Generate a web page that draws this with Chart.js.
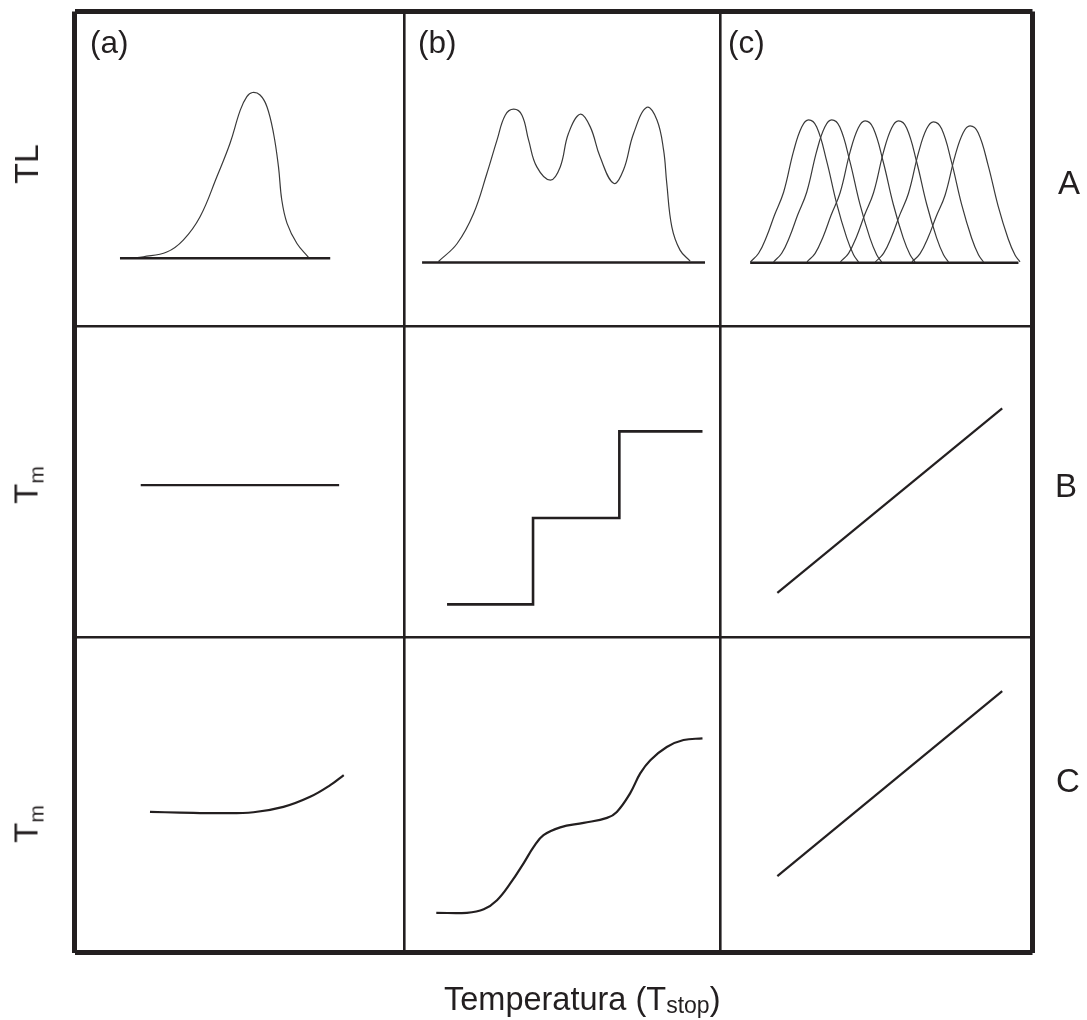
<!DOCTYPE html>
<html>
<head>
<meta charset="utf-8">
<script src="https://cdn.jsdelivr.net/npm/chart.js@4.4.1/dist/chart.umd.min.js"></script>
<style>
  html, body { margin: 0; padding: 0; background: #fff; }
  #wrap { position: relative; width: 1087px; height: 1020px; overflow: hidden; }
  canvas { position: absolute; left: 0; top: 0; }
  .lbl { position: absolute; font-family: "Liberation Sans", Arial, sans-serif; color: #231f20; line-height: 1; white-space: nowrap; }
  .rot { transform: translate(-50%, -50%) rotate(-90deg); }
  .sub { position: relative; }
</style>
</head>
<body>
<div id="wrap">
  <canvas id="c" width="1087" height="1020"></canvas>
  <div class="lbl" style="left:90px; top:27px; font-size:31.5px;">(a)</div>
  <div class="lbl" style="left:418px; top:27px; font-size:31.5px;">(b)</div>
  <div class="lbl" style="left:728px; top:27px; font-size:31.5px;">(c)</div>
  <div class="lbl" style="left:1058px; top:166px; font-size:33px;">A</div>
  <div class="lbl" style="left:1055px; top:469px; font-size:33px;">B</div>
  <div class="lbl" style="left:1056px; top:764px; font-size:33px;">C</div>
  <div class="lbl rot" style="left:26px; top:164px; font-size:34px;">TL</div>
  <div class="lbl rot" style="left:26px; top:485px; font-size:33px;">T<span class="sub" style="font-size:21px; top:6px;">m</span></div>
  <div class="lbl rot" style="left:26px; top:824px; font-size:33px;">T<span class="sub" style="font-size:21px; top:6px;">m</span></div>
  <div class="lbl" style="left:444px; top:983px; font-size:32.5px;">Temperatura (T<span class="sub" style="font-size:23px; top:3px;">stop</span>)</div>
</div>
<script>
// ---- panel grid (percent of the plotting area) ----
const colEdges = [0, 34.4, 67.4, 100];      // columns (a), (b), (c)
const rowEdges = [0, 33.5, 66.5, 100];      // rows C, B, A (bottom to top)

// ---- row A : TL glow curves (panel-local coordinates, 0-100) ----
const aA_baseX = [13.8, 77.6];
const aA_baseY = [21.7, 21.7];
const aA_x = [16.9, 20.9, 28.0, 33.0, 38.1, 43.2, 47.2, 50.3, 52.3, 54.0, 56.3, 58.4, 60.4, 61.9, 62.9, 64.5, 67.5, 71.0];
const aA_y = [21.7, 22.2, 23.7, 27.5, 34.9, 47.6, 58.2, 68.7, 73.0, 74.3, 73.5, 69.8, 61.3, 50.7, 40.2, 32.8, 26.4, 22.0];

const bA_baseX = [5.7, 95.2];
const bA_baseY = [20.4, 20.4];
const bA_x = [10.9, 16.8, 22.0, 26.2, 29.4, 32.0, 34.7, 37.3, 39.4, 42.0, 46.3, 49.4, 52.0, 55.7, 58.9, 62.0, 66.3, 69.4, 72.6, 76.8, 80.0, 82.1, 83.1, 84.7, 87.3, 90.5];
const bA_y = [20.7, 26.4, 35.9, 48.6, 59.2, 67.1, 69.0, 67.1, 59.2, 50.7, 46.5, 50.7, 61.3, 67.4, 63.4, 53.9, 45.5, 49.7, 61.3, 69.6, 65.6, 56.0, 45.5, 31.7, 24.3, 20.8];

const cA_baseX = [9.6, 95.5];
const cA_baseY = [20.3, 20.3];
const cA_curveBase = 20.6;
const peakShapeDx   = [-18.6, -16.0, -13.4, -10.9, -8.0, -4.8, -2.2, 0, 2.6, 5.8, 9.0, 12.2, 14.4, 16.0];
const peakShapeFrac = [0, 0.06, 0.18, 0.33, 0.49, 0.78, 0.95, 1, 0.95, 0.71, 0.41, 0.17, 0.05, 0];
const peakCenters = [28.3, 35.7, 46.4, 57.1, 68.3, 80.0];
const peakTops    = [65.6, 65.6, 65.3, 65.3, 65.0, 63.7];

// ---- row B : Tm vs Tstop ----
const aB_x = [20.1, 80.3];
const aB_y = [49.0, 49.0];
const bB_x = [13.6, 40.8, 68.1, 94.4];
const bB_y = [10.6, 38.4, 66.3, 66.3];
const cB_x = [18.3, 90.3];
const cB_y = [14.3, 73.7];

// ---- row C : Tm vs Tstop ----
const aC_x = [22.9, 32.0, 44.2, 54.3, 63.4, 71.5, 77.6, 81.7];
const aC_y = [44.6, 44.4, 44.2, 44.5, 46.2, 49.4, 53.1, 56.3];
const bC_x = [10.2, 19.9, 25.2, 29.4, 33.6, 37.8, 41.0, 44.1, 49.4, 56.8, 64.2, 67.3, 71.5, 74.7, 77.9, 83.1, 88.4, 94.4];
const bC_y = [12.6, 12.6, 13.7, 16.6, 21.9, 28.3, 33.5, 37.2, 39.7, 41.1, 42.7, 44.6, 50.5, 56.8, 61.0, 65.2, 67.4, 67.9];
const cC_x = [18.3, 90.3];
const cC_y = [24.2, 82.9];

// ---- helpers ----
const INK = '#231f20';
const THIN = '#3a3a3a';
function place(col, row, xs, ys) {
  const x0 = colEdges[col], xw = colEdges[col + 1] - colEdges[col];
  const y0 = rowEdges[row], yh = rowEdges[row + 1] - rowEdges[row];
  return xs.map((x, i) => ({ x: x0 + x / 100 * xw, y: y0 + ys[i] / 100 * yh }));
}
function ds(data, width, color, extra) {
  return Object.assign({
    data: data, borderColor: color, borderWidth: width, pointRadius: 0,
    fill: false, tension: 0, borderJoinStyle: 'miter', borderCapStyle: 'butt'
  }, extra || {});
}
const smooth = { tension: 0.4, borderJoinStyle: 'round' };

const datasets = [];
// Row A (row index 2)
datasets.push(ds(place(0, 2, aA_baseX, aA_baseY), 2.5, INK));
datasets.push(ds(place(0, 2, aA_x, aA_y), 1.2, THIN, smooth));
datasets.push(ds(place(1, 2, bA_baseX, bA_baseY), 2.5, INK));
datasets.push(ds(place(1, 2, bA_x, bA_y), 1.2, THIN, smooth));
datasets.push(ds(place(2, 2, cA_baseX, cA_baseY), 2.5, INK));
peakCenters.forEach((c, k) => {
  const xs = peakShapeDx.map(d => c + d);
  const ys = peakShapeFrac.map(f => cA_curveBase + f * (peakTops[k] - cA_curveBase));
  datasets.push(ds(place(2, 2, xs, ys), 1.2, THIN, smooth));
});
// Row B (row index 1)
datasets.push(ds(place(0, 1, aB_x, aB_y), 2.3, INK));
datasets.push(ds(place(1, 1, bB_x, bB_y), 2.6, INK, { stepped: 'before' }));
datasets.push(ds(place(2, 1, cB_x, cB_y), 2.2, INK));
// Row C (row index 0)
datasets.push(ds(place(0, 0, aC_x, aC_y), 2.2, INK, smooth));
datasets.push(ds(place(1, 0, bC_x, bC_y), 2.2, INK, smooth));
datasets.push(ds(place(2, 0, cC_x, cC_y), 2.2, INK));

function frameAxis(edges) {
  return {
    type: 'linear', min: 0, max: 100,
    afterBuildTicks: (axis) => { axis.ticks = edges.map(v => ({ value: v })); },
    ticks: { display: false },
    border: { display: false },
    grid: {
      display: true, drawTicks: false, drawOnChartArea: true, color: INK,
      lineWidth: (ctx) => (ctx.tick && (ctx.tick.value === 0 || ctx.tick.value === 100)) ? 5 : 2.6
    }
  };
}

new Chart(document.getElementById('c'), {
  type: 'line',
  data: { datasets: datasets },
  options: {
    responsive: false, animation: false, devicePixelRatio: 1, events: [],
    layout: { padding: { left: 74.5, right: 54.5, top: 11.5, bottom: 67.5 } },
    plugins: { legend: { display: false }, tooltip: { enabled: false }, title: { display: false } },
    scales: { x: frameAxis(colEdges), y: frameAxis(rowEdges) }
  }
});
</script>
</body>
</html>
